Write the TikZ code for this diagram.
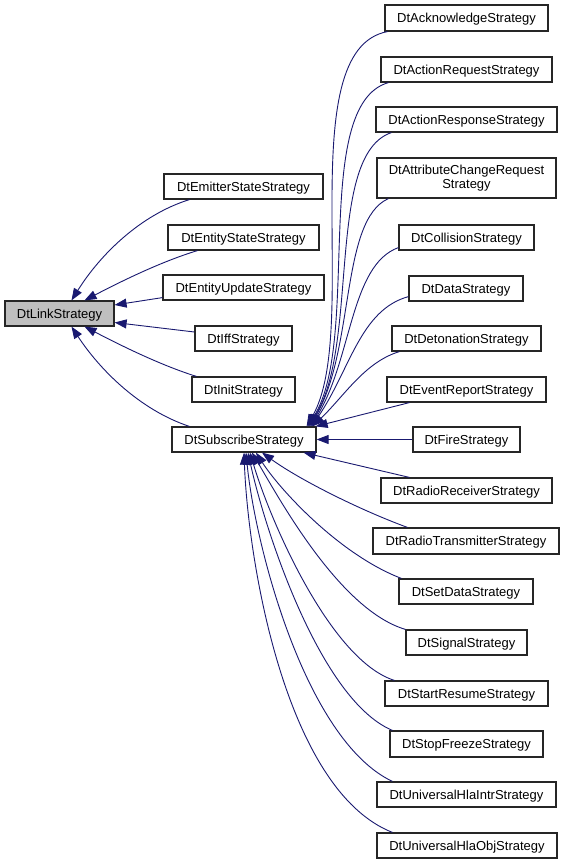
\documentclass[tikz,border=0pt]{standalone}
\usepackage{fontspec}
\setmainfont{Liberation Sans}
\usetikzlibrary{arrows.meta}
\definecolor{edgeblue}{RGB}{25,25,112}

\begin{document}
\begin{tikzpicture}[x=1pt,y=-1pt,
	cls/.style={draw=black!85,line width=1.2pt,fill=white,minimum height=25,inner sep=0pt,text height=9.3pt,text depth=0pt,font=\fontsize{13}{14}\selectfont,align=center},
	base/.style={cls,fill=black!25},
	inh/.style={draw=edgeblue,line width=0.9pt,-{Triangle[length=12pt,width=9pt]}}]
	\useasboundingbox[fill=white] (0,0) rectangle (565,864);

	\node[base,minimum width=109] (link) at (59.5,313.5) {DtLinkStrategy};

	\node[cls,minimum width=159] (emit) at (243.5,186.5) {DtEmitterStateStrategy};
	\node[cls,minimum width=151] (estate) at (243.5,237.5) {DtEntityStateStrategy};
	\node[cls,minimum width=161] (eupd) at (243.5,287.5) {DtEntityUpdateStrategy};
	\node[cls,minimum width=97] (iff) at (243.5,338.5) {DtIffStrategy};
	\node[cls,minimum width=103] (init) at (243.5,389.5) {DtInitStrategy};
	\node[cls,minimum width=144] (sub) at (244,439.5) {DtSubscribeStrategy};

	\node[cls,minimum width=163,minimum height=26] (ack) at (466.5,18) {DtAcknowledgeStrategy};
	\node[cls,minimum width=171] (areq) at (466.5,69.5) {DtActionRequestStrategy};
	\node[cls,minimum width=181] (aresp) at (466.5,119.5) {DtActionResponseStrategy};
	\node[cls,text height={},text depth={},minimum width=179,minimum height=40] (attr) at (466.5,178) {DtAttributeChangeRequest\\Strategy};
	\node[cls,minimum width=135] (coll) at (466.5,237.5) {DtCollisionStrategy};
	\node[cls,minimum width=114] (data) at (466,288.5) {DtDataStrategy};
	\node[cls,minimum width=149] (deton) at (466.5,338.5) {DtDetonationStrategy};
	\node[cls,minimum width=159] (event) at (466.5,389.5) {DtEventReportStrategy};
	\node[cls,minimum width=107] (fire) at (466.5,439.5) {DtFireStrategy};
	\node[cls,minimum width=171] (rrecv) at (466.5,490.5) {DtRadioReceiverStrategy};
	\node[cls,minimum width=186,minimum height=26] (rtrans) at (466,541) {DtRadioTransmitterStrategy};
	\node[cls,minimum width=134] (setdata) at (466,591.5) {DtSetDataStrategy};
	\node[cls,minimum width=121] (signal) at (466.5,642.5) {DtSignalStrategy};
	\node[cls,minimum width=163] (start) at (466.5,693.5) {DtStartResumeStrategy};
	\node[cls,minimum width=153,minimum height=26] (stop) at (466.5,744) {DtStopFreezeStrategy};
	\node[cls,minimum width=179] (hlaintr) at (466.5,794.5) {DtUniversalHlaIntrStrategy};
	\node[cls,minimum width=180] (hlaobj) at (467,845.5) {DtUniversalHlaObjStrategy};

	% derived from DtLinkStrategy
	\draw[inh] ([xshift=26]emit.south west) .. controls (140,215) and (100,255) .. ([xshift=12]link.north);
	\draw[inh] ([xshift=30]estate.south west) .. controls (160,262) and (120,282) .. ([xshift=25]link.north);
	\draw[inh] ([yshift=3]eupd.south west) -- ([yshift=8.5]link.east);
	\draw[inh] ([yshift=6.5]iff.west) -- ([yshift=-9]link.east);
	\draw[inh] ([xshift=5]init.north west) .. controls (160,365) and (120,345) .. ([xshift=25]link.south);
	\draw[inh] ([xshift=18]sub.north west) .. controls (140,410) and (100,370) .. ([xshift=12]link.south);

	% derived from DtSubscribeStrategy
	\draw[inh] ([xshift=3]ack.south west) .. controls (290,50) and (362,330) .. ([xshift=-10]sub.north east);
	\draw[inh] ([xshift=8]areq.south west) .. controls (310,105) and (362,340) .. ([xshift=-9]sub.north east);
	\draw[inh] ([xshift=16]aresp.south west) .. controls (325,155) and (360,345) .. ([xshift=-8]sub.north east);
	\draw[inh] ([xshift=12]attr.south west) .. controls (340,220) and (355,350) .. ([xshift=-7]sub.north east);
	\draw[inh] ([yshift=3]coll.south west) .. controls (350,265) and (352,360) .. ([xshift=-6]sub.north east);
	\draw[inh] ([yshift=5]data.south west) .. controls (360,310) and (350,370) .. ([xshift=-5]sub.north east);
	\draw[inh] ([xshift=8]deton.south west) .. controls (365,362) and (345,395) .. ([xshift=-4]sub.north east);
	\draw[inh] ([xshift=23]event.south west) -- ([xshift=-1]sub.north east);
	\draw[inh] (fire.west) -- (sub.east);
	\draw[inh] ([xshift=29]rrecv.north west) -- ([xshift=-13]sub.south east);
	\draw[inh] ([xshift=35]rtrans.north west) .. controls (360,510) and (300,480) .. ([xshift=18]sub.south);
	\draw[inh] ([xshift=3]setdata.north west) .. controls (340,555) and (280,490) .. ([xshift=12]sub.south);
	\draw[inh] (signal.north west) .. controls (340,610) and (280,500) .. ([xshift=8]sub.south);
	\draw[inh] ([xshift=10]start.north west) .. controls (330,660) and (270,520) .. ([xshift=6]sub.south);
	\draw[inh] ([xshift=3]stop.north west) .. controls (320,700) and (265,530) .. ([xshift=4]sub.south);
	\draw[inh] ([xshift=16]hlaintr.north west) .. controls (305,740) and (255,545) .. ([xshift=2]sub.south);
	\draw[inh] ([xshift=16]hlaobj.north west) .. controls (285,790) and (248,560) .. (sub.south);
\end{tikzpicture}
\end{document}
